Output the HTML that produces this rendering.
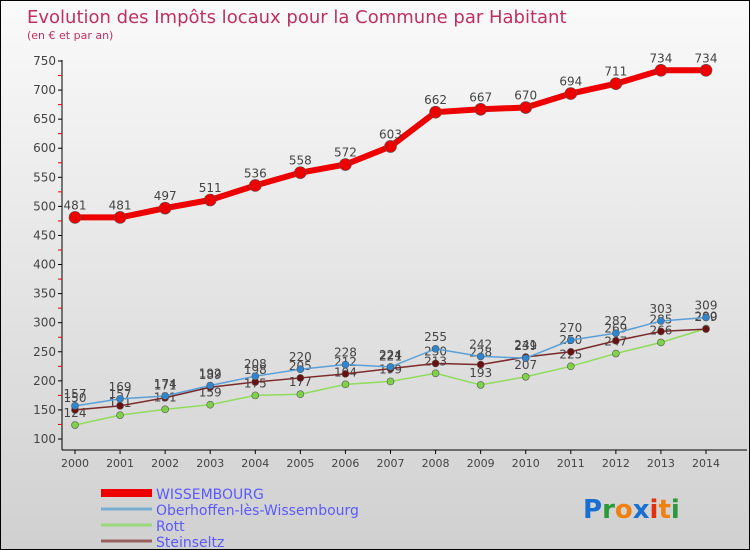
<!DOCTYPE html>
<html><head><meta charset="utf-8"><style>
body{margin:0}
#c{width:748px;height:548px;border:1px solid #000;background:linear-gradient(#fafafa,#d0d0d0);position:relative;overflow:hidden;font-family:"DejaVu Sans","Liberation Sans",sans-serif}
</style></head><body>
<div id="c">
<svg id="s" width="748" height="548"></svg>
</div>
<script>
const years=[2000,2001,2002,2003,2004,2005,2006,2007,2008,2009,2010,2011,2012,2013,2014];
const wissembourg=[481,481,497,511,536,558,572,603,662,667,670,694,711,734,734];
const oberhoffen=[157,169,174,192,208,220,228,224,255,242,239,270,282,303,309];
const rott=[124,141,151,159,175,177,194,199,213,193,207,225,247,266,290];
const steinseltz=[150,157,171,189,198,205,212,221,230,228,241,250,269,285,289];
const yTicks=[100,150,200,250,300,350,400,450,500,550,600,650,700,750];
const NS='http://www.w3.org/2000/svg';
const s=document.getElementById('s');
function X(i){return 74+i*(705-74)/14;}
function Y(v){return 438-(v-100)*(438-60)/650;}
function el(t,a,p){const e=document.createElementNS(NS,t);for(const k in a)e.setAttribute(k,a[k]);(p||s).appendChild(e);return e;}
let t;
t=el('text',{x:26,y:22,'font-size':18,fill:'#c0305f'});t.textContent='Evolution des Impôts locaux pour la Commune par Habitant';

t=el('text',{x:26,y:38,'font-size':11,fill:'#c0305f'});t.textContent='(en € et par an)';

// axes
let ax=el('line',{x1:61,y1:59,x2:61,y2:449,stroke:'#000'});

ax=el('line',{x1:61,y1:449,x2:746,y2:449,stroke:'#000'});

yTicks.forEach(v=>{
 el('line',{x1:57,x2:61,y1:Y(v),y2:Y(v),stroke:'#000'});
 if(v<750)el('line',{x1:57,x2:61,y1:Y(v+25),y2:Y(v+25),stroke:'#e00'});
 const tt=el('text',{x:55,y:Y(v)+4,'font-size':12,fill:'#444','text-anchor':'end'});tt.textContent=v;
 
});
years.forEach((y,i)=>{
 el('line',{x1:X(i),x2:X(i),y1:449,y2:453,stroke:'#000'});
 const tt=el('text',{x:X(i),y:466,'font-size':11,fill:'#444','text-anchor':'middle'});tt.textContent=y;
 
});
function series(data,color,w,r,name,dark){
 const g=el('g',{});
 
 const pts=data.map((v,i)=>X(i)+','+Y(v)).join(' ');
 el('polyline',{points:pts,fill:'none',stroke:color,'stroke-width':w},g);
 data.forEach((v,i)=>{
  const c=el('circle',{cx:X(i),cy:Y(v),r:r,fill:dark,stroke:'#555','stroke-width':0.6},g);
  
  const l=el('text',{x:X(i),y:Y(v)-8,'font-size':12,fill:'#444','text-anchor':'middle'},g);l.textContent=v;
  
 });
}
series(rott,'#8fdc5a',1.5,3.5,'rott','#7fd14a');
series(steinseltz,'#7a2a2a',1.5,3.5,'steinseltz','#6a1010');
series(oberhoffen,'#5aa0d8',1.5,3.5,'oberhoffen','#2f86d0');
series(wissembourg,'#ee0000',6,6,'wissembourg','#ee0000');
// legend
const leg=[['WISSEMBOURG','#ee0000',8],['Oberhoffen-lès-Wissembourg','#7aaed0',3],['Rott','#9ad87a',3],['Steinseltz','#9a6060',3]];
leg.forEach((l,i)=>{
 const y=492+i*16;
 const g=el('g',{});
 el('line',{x1:100,x2:151,y1:y,y2:y,stroke:l[1],'stroke-width':l[2]},g);
 const tt=el('text',{x:155,y:y+6,'font-size':14,fill:'#5a5aff'},g);tt.textContent=l[0];
});
// logo
const lg=el('text',{x:582,y:517,'font-size':26,'font-weight':'bold'});

[['P','#1a70d0'],['r','#2a9a3a'],['o','#f08010'],['x','#1a70d0'],['i','#e03010'],['t','#f08010'],['i','#2a9a3a']].forEach(c=>{const sp=el('tspan',{fill:c[1]},lg);sp.textContent=c[0];});
</script>
</body></html>
